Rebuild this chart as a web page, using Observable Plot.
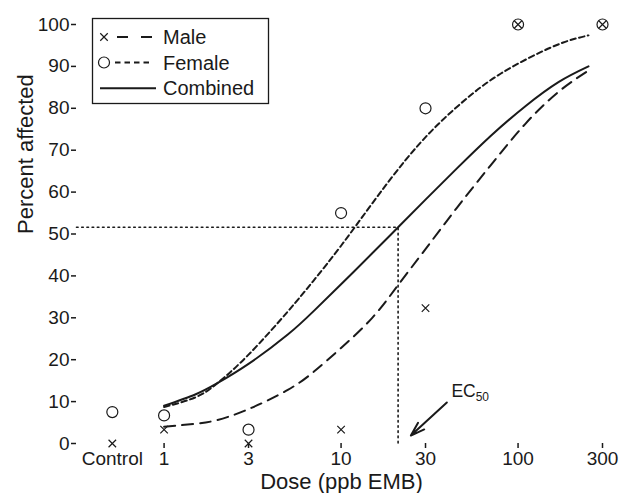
<!DOCTYPE html>
<html><head><meta charset="utf-8">
<script src="https://cdn.jsdelivr.net/npm/d3@7"></script>
<script src="https://cdn.jsdelivr.net/npm/@observablehq/plot@0.6"></script>
<style>body{margin:0;background:#fff}</style>
</head><body><div id="chart"></div>
<script>
// Observed data (dose groups; "Control" is placed left of dose 1 on the log axis)
const doseLabels = ["Control", "1", "3", "10", "30", "100", "300"];
const doseValues = [0.51, 1, 3, 10, 30, 100, 300];
const maleObs = [0, 3.3, 0, 3.3, 32.3, 100, 100];
const femaleObs = [7.5, 6.7, 3.3, 55, 80, 100, 100];
const yTicks = [0, 10, 20, 30, 40, 50, 60, 70, 80, 90, 100];

// Fitted curves
const curveDose = [1, 1.5, 2, 3, 5, 7, 10, 15, 21, 30, 45, 70, 110, 170, 250];
const maleCurvePct     = [4.0, 4.7, 5.6, 8.2, 12.8, 17.1, 22.8, 30.0, 37.8, 46.4, 56.2, 66.4, 76.3, 84.0, 89.0];
const combinedCurvePct = [9.0, 11.7, 14.4, 19.0, 26.0, 31.6, 38.0, 45.4, 51.6, 58.2, 65.6, 73.4, 80.5, 86.3, 90.0];
const femaleCurveDose = [1, 1.5, 2, 3, 5, 7, 10, 15, 23, 35, 55, 80, 120, 180, 250];
const femaleCurvePct  = [8.7, 11.0, 14.4, 21.2, 31.5, 38.9, 47.2, 57.3, 67.5, 76.0, 83.4, 88.3, 92.4, 95.7, 97.4];

// EC50 annotation
const ec50Dose = 21;
const ec50Pct = 51.6;
const ec50Arrow = {x1: 39.6, y1: 9.8, x2: 24.8, y2: 1.9};
const ec50Label = {dose: 42, pct: 12.4};

const ink = "#1a1a1a";
const font = "'Liberation Sans', Arial, sans-serif";
const rows = (xs, ys) => xs.map((d, i) => ({dose: d, pct: ys[i]}));
const tickRows = doseValues.map((d, i) => ({dose: d, label: doseLabels[i]}));

const plot = Plot.plot({
  width: 620, height: 493,
  marginLeft: 76, marginRight: 18, marginTop: 24, marginBottom: 50,
  style: {fontFamily: font, color: ink, background: "#fff", overflow: "visible"},
  x: {type: "log", domain: [0.32, 300]},
  y: {domain: [0, 100]},
  marks: [
    Plot.axisX({ticks: doseValues.slice(1), tickFormat: () => "", tickSize: 5, label: null, line: true, strokeWidth: 1.5}),
    Plot.text(tickRows, {x: "dose", text: "label", frameAnchor: "bottom", lineAnchor: "top", dy: 8, fontSize: 19, fill: ink}),
    Plot.axisY({ticks: yTicks, tickSize: 5, tickPadding: 2, fontSize: 19, label: null, line: true, strokeWidth: 1.5}),
    Plot.line([[0.32, ec50Pct], [ec50Dose, ec50Pct], [ec50Dose, 0]], {x: d => d[0], y: d => d[1], stroke: ink, strokeWidth: 1.6, strokeDasharray: "1.6,3.6"}),
    Plot.line(rows(curveDose, maleCurvePct), {x: "dose", y: "pct", curve: "natural", stroke: ink, strokeWidth: 2, strokeDasharray: "11,7"}),
    Plot.line(rows(femaleCurveDose, femaleCurvePct), {x: "dose", y: "pct", curve: "natural", stroke: ink, strokeWidth: 2, strokeDasharray: "5.5,3.5"}),
    Plot.line(rows(curveDose, combinedCurvePct), {x: "dose", y: "pct", curve: "natural", stroke: ink, strokeWidth: 2}),
    Plot.dot(rows(doseValues, maleObs), {x: "dose", y: "pct", symbol: "times", r: 3.5, stroke: ink, strokeWidth: 1.2}),
    Plot.dot(rows(doseValues, femaleObs), {x: "dose", y: "pct", r: 5.5, stroke: ink, fill: "none", strokeWidth: 1.2}),
    Plot.arrow([ec50Arrow], {x1: "x1", y1: "y1", x2: "x2", y2: "y2", stroke: ink, strokeWidth: 2, headLength: 11, headAngle: 36}),
    Plot.text([ec50Label], {x: "dose", y: "pct", text: () => "EC", textAnchor: "start", fontSize: 17.5, fill: ink, className: "ec50lab"}),
    Plot.text(["Percent affected"], {text: d => d, frameAnchor: "left", dx: -51, rotate: -90, fontSize: 22, fill: ink}),
    Plot.text(["Dose (ppb EMB)"], {text: d => d, frameAnchor: "bottom", dx: 2, dy: 38, fontSize: 22, fill: ink, lineAnchor: "middle"})
  ]
});

document.getElementById("chart").appendChild(plot);

// Subscript for EC50
d3.select(plot).selectAll(".ec50lab text").each(function() {
  d3.select(this).append("tspan").attr("font-size", 12).attr("dy", "0.35em").text("50");
});

// Legend box
const svg = d3.select(plot);
const lg = svg.append("g").attr("font-family", font).attr("fill", ink).attr("text-anchor", "start");
lg.append("rect").attr("x", 92.5).attr("y", 18.5).attr("width", 176).attr("height", 85)
  .attr("fill", "#fff").attr("stroke", ink).attr("stroke-width", 1.3);
const legendItems = [
  {label: "Male", y: 37, dash: "11,13", x1: 117, x2: 152, sym: "times"},
  {label: "Female", y: 62.5, dash: "5.5,4", x1: 115, x2: 153, sym: "circle"},
  {label: "Combined", y: 88.3, dash: null, x1: 100, x2: 156, sym: null}
];
legendItems.forEach(it => {
  const ln = lg.append("line").attr("x1", it.x1).attr("x2", it.x2).attr("y1", it.y).attr("y2", it.y)
    .attr("stroke", ink).attr("stroke-width", 2);
  if (it.dash) ln.attr("stroke-dasharray", it.dash);
  if (it.sym === "times") {
    lg.append("path").attr("d", d3.symbol(d3.symbolTimes, Math.PI * 3.5 * 3.5)())
      .attr("transform", `translate(104,${it.y})`).attr("fill", "none").attr("stroke", ink).attr("stroke-width", 1.2);
  } else if (it.sym === "circle") {
    lg.append("circle").attr("cx", 104).attr("cy", it.y).attr("r", 5.5).attr("fill", "none").attr("stroke", ink).attr("stroke-width", 1.2);
  }
  lg.append("text").attr("x", 163).attr("y", it.y).attr("dy", "0.35em").attr("font-size", 20).text(it.label);
});
</script>
</body></html>
